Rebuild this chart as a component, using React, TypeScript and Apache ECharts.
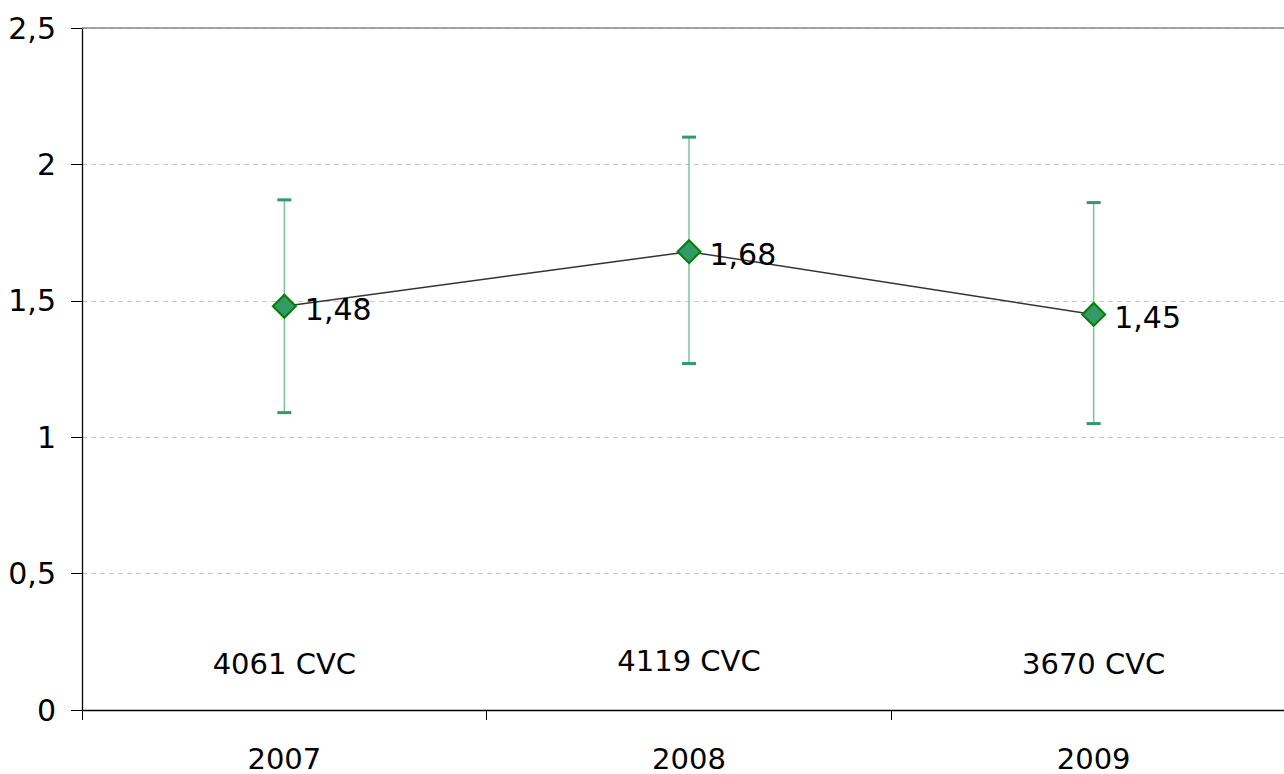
import React, { useEffect, useRef } from "react";
import * as echarts from "echarts";

const years = ["2007", "2008", "2009"];
const means = [1.48, 1.68, 1.45];
const lows = [1.09, 1.27, 1.05];
const highs = [1.87, 2.1, 1.86];
const counts = ["4061 CVC", "4119 CVC", "3670 CVC"];
const countLabelY = [0.17, 0.18, 0.17];
const yTicks = [0, 0.5, 1, 1.5, 2, 2.5];

const FONT = "DejaVu Sans";
const fmt = (v: number) => String(v).replace(".", ",");

export default function App() {
  const ref = useRef<HTMLDivElement>(null);
  useEffect(() => {
    const chart = echarts.init(ref.current!, null, { renderer: "svg" });
    chart.setOption({
      animation: false,
      backgroundColor: "#ffffff",
      grid: { left: 82, top: 28, bottom: 64, right: 0, containLabel: false },
      xAxis: {
        type: "category",
        data: years,
        boundaryGap: true,
        axisLine: { lineStyle: { color: "#000", width: 1.3 } },
        axisTick: { show: true, length: 10, lineStyle: { color: "#000" } },
        axisLabel: { color: "#000", fontFamily: FONT, fontSize: 29, margin: 34 },
        splitLine: { show: false },
      },
      yAxis: {
        type: "value",
        min: yTicks[0],
        max: yTicks[yTicks.length - 1],
        interval: 0.5,
        axisLine: { show: true, lineStyle: { color: "#000", width: 1.3 } },
        axisTick: { show: true, length: 11, lineStyle: { color: "#000" } },
        axisLabel: {
          color: "#000",
          fontFamily: FONT,
          fontSize: 30,
          margin: 26,
          formatter: (v: number) => fmt(v),
        },
        splitLine: { show: true, lineStyle: { color: "#c8c8c8", type: [5, 4], width: 1 } },
      },
      series: [
        {
          type: "custom",
          z: 2,
          data: years.map((_, i) => [i, lows[i], highs[i]]),
          renderItem: (params: any, api: any) => {
            const lo = api.coord([api.value(0), api.value(1)]);
            const hi = api.coord([api.value(0), api.value(2)]);
            const hw = 7;
            return {
              type: "group",
              children: [
                {
                  type: "line",
                  shape: { x1: lo[0], y1: lo[1], x2: hi[0], y2: hi[1] },
                  style: { stroke: "#7cc59c", lineWidth: 1.5 },
                },
                {
                  type: "line",
                  shape: { x1: lo[0] - hw, y1: lo[1], x2: lo[0] + hw, y2: lo[1] },
                  style: { stroke: "#339966", lineWidth: 3 },
                },
                {
                  type: "line",
                  shape: { x1: hi[0] - hw, y1: hi[1], x2: hi[0] + hw, y2: hi[1] },
                  style: { stroke: "#339966", lineWidth: 3 },
                },
              ],
            };
          },
        },
        {
          type: "line",
          z: 3,
          data: means,
          symbol: "diamond",
          symbolSize: 23,
          lineStyle: { color: "#333333", width: 1.5 },
          itemStyle: { color: "#339966", borderColor: "#008000", borderWidth: 2 },
          label: {
            show: true,
            position: "right",
            distance: 8,
            offset: [0, 3],
            color: "#000",
            fontFamily: FONT,
            fontSize: 30,
            formatter: (p: any) => fmt(p.value),
          },
          markLine: {
            silent: true,
            symbol: "none",
            label: { show: false },
            lineStyle: { color: "#888888", type: "solid", width: 1.5 },
            data: [{ yAxis: 2.5 }],
          },
        },
        {
          type: "custom",
          z: 4,
          data: years.map((_, i) => [i, countLabelY[i]]),
          renderItem: (params: any, api: any) => {
            const p = api.coord([api.value(0), api.value(1)]);
            return {
              type: "text",
              x: p[0],
              y: p[1],
              style: {
                text: counts[params.dataIndex],
                fill: "#000",
                font: `29px "${FONT}"`,
                align: "center",
                verticalAlign: "middle",
              },
            };
          },
        },
      ],
    });
    return () => chart.dispose();
  }, []);
  return (
    <div
      ref={ref}
      style={{ position: "fixed", left: 0, top: 0, width: 1296, height: 774, background: "#fff" }}
    />
  );
}
